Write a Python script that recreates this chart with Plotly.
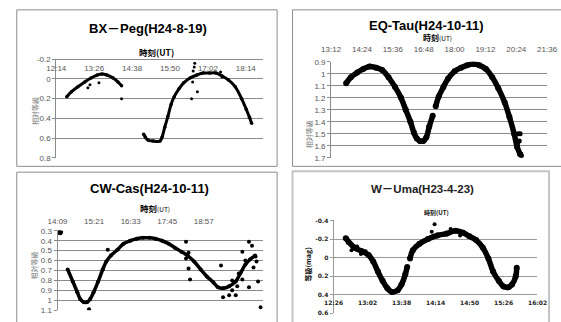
import plotly.graph_objects as go

W, H = 561, 322


def hm(s):
    h, m = s.split(":")
    return int(h) * 60 + int(m)


def fx(x):
    return x / W


def fy(y):
    return 1 - y / H


# ---------------- data ----------------
# BX-Peg (H24-8-19)
bx_t1 = ["12:34", "12:43", "12:55", "13:08", "13:20", "13:32", "13:41", "13:50", "14:02", "14:11", "14:18"]
bx_v1 = [0.18, 0.13, 0.08, 0.03, -0.01, -0.04, -0.05, -0.04, -0.01, 0.03, 0.07]
bx_t2 = ["15:00", "15:03", "15:08", "15:18", "15:31", "15:35", "15:40", "15:46", "15:52", "15:58", "16:07",
         "16:16", "16:28", "16:41", "16:53", "17:05", "17:17", "17:29", "17:41", "17:54", "18:06", "18:15",
         "18:21", "18:25"]
bx_v2 = [0.56, 0.59, 0.62, 0.63, 0.63, 0.59, 0.49, 0.38, 0.26, 0.18, 0.10, 0.04, -0.01, -0.04, -0.06, -0.06,
         -0.06, -0.03, 0.01, 0.08, 0.20, 0.31, 0.39, 0.45]
bx_ot = ["14:18", "13:35", "13:14", "13:18", "16:31", "16:37", "16:36", "16:34", "16:42", "16:33", "17:26", "17:29"]
bx_ov = [0.20, 0.04, 0.09, 0.06, 0.20, -0.16, -0.12, -0.08, 0.13, 0.03, -0.07, -0.02]
bx_ticks = ["12:14", "13:26", "14:38", "15:50", "17:02", "18:14"]
bx_yt = [-0.2, 0, 0.2, 0.4, 0.6, 0.8]

# EQ-Tau (H24-10-11)
eq_t1 = ["13:47", "13:58", "14:13", "14:27", "14:42", "14:57", "15:11", "15:26", "15:41", "15:55", "16:06",
         "16:17", "16:25", "16:32", "16:39", "16:47", "16:54", "17:01", "17:09"]
eq_v1 = [1.08, 1.03, 0.99, 0.96, 0.94, 0.95, 0.97, 1.03, 1.11, 1.20, 1.30, 1.40, 1.49, 1.54, 1.56, 1.56, 1.53,
         1.44, 1.35]
eq_t2 = ["17:16", "17:23", "17:34", "17:45", "18:00", "18:15", "18:29", "18:44", "18:58", "19:13", "19:28",
         "19:42", "19:57", "20:08", "20:19", "20:26", "20:33"]
eq_v2 = [1.27, 1.19, 1.11, 1.04, 0.98, 0.95, 0.93, 0.92, 0.93, 0.96, 1.03, 1.12, 1.24, 1.36, 1.50, 1.61, 1.67]
eq_ot = ["20:29", "20:33", "20:31", "20:36", "20:27"]
eq_ov = [1.50, 1.50, 1.56, 1.68, 1.58]
eq_ticks = ["13:12", "14:24", "15:36", "16:48", "18:00", "19:12", "20:24", "21:36"]
eq_yt = [0.9, 1.0, 1.1, 1.2, 1.3, 1.4, 1.5, 1.6, 1.7]

# CW-Cas (H24-10-11)
cw_t0 = ["14:11", "14:12", "14:13", "14:14", "14:15"]
cw_v0 = [0.30, 0.31, 0.31, 0.32, 0.31]
cw_t1 = ["14:29", "14:39", "14:48", "14:54", "15:01", "15:07", "15:13", "15:20", "15:29", "15:38", "15:45",
         "15:54", "16:07", "16:19", "16:32", "16:45", "16:57", "17:10", "17:22", "17:35", "17:48", "18:00",
         "18:13", "18:25", "18:38", "18:51", "19:03", "19:16", "19:25", "19:35", "19:47", "20:00", "20:09",
         "20:19", "20:28", "20:38"]
cw_v1 = [0.69, 0.81, 0.92, 0.99, 1.02, 1.02, 0.99, 0.92, 0.81, 0.69, 0.61, 0.55, 0.49, 0.43, 0.40, 0.38, 0.37,
         0.37, 0.38, 0.40, 0.43, 0.47, 0.51, 0.55, 0.61, 0.69, 0.76, 0.82, 0.87, 0.88, 0.86, 0.81, 0.73, 0.64,
         0.59, 0.55]
cw_ot = ["15:48", "18:22", "18:22", "18:27", "18:27", "18:30", "19:31", "19:35", "19:47", "19:53", "20:00",
         "20:13", "20:13", "20:26", "20:32", "20:35", "20:26", "20:41", "20:44", "20:49", "20:39", "20:19",
         "20:06", "19:53", "20:03", "15:11"]
cw_ov = [0.49, 0.41, 0.58, 0.52, 0.68, 0.79, 0.65, 0.97, 0.95, 0.90, 0.95, 0.79, 0.51, 0.41, 0.45, 0.67, 0.87,
         0.61, 0.81, 1.07, 0.56, 0.60, 0.73, 0.80, 0.86, 1.09]
cw_ticks = ["14:09", "15:21", "16:33", "17:45", "18:57"]
cw_yt = [0.3, 0.4, 0.5, 0.6, 0.7, 0.8, 0.9, 1.0, 1.1]

# W-Uma (H23-4-23)
wu_t1 = ["12:39", "12:48", "12:56", "13:03", "13:08", "13:13", "13:18", "13:23", "13:28", "13:34", "13:38",
         "13:42", "13:44"]
wu_v1 = [-0.21, -0.11, -0.07, -0.03, 0.04, 0.15, 0.25, 0.33, 0.37, 0.35, 0.29, 0.18, 0.10]
wu_t2 = ["13:47", "13:50", "13:57", "14:06", "14:16", "14:26", "14:35", "14:43", "14:50", "14:57", "15:04",
         "15:10", "15:15", "15:21", "15:26", "15:31", "15:35", "15:39", "15:40"]
wu_v2 = [0.01, -0.08, -0.15, -0.20, -0.24, -0.26, -0.29, -0.27, -0.23, -0.19, -0.11, 0.01, 0.15, 0.25, 0.31,
         0.32, 0.29, 0.20, 0.11]
wu_ot = ["14:13", "12:41", "12:45", "12:51", "12:55", "13:00", "14:10", "14:30", "14:40"]
wu_ov = [-0.36, -0.16, -0.08, -0.12, -0.04, -0.07, -0.28, -0.31, -0.24]
wu_ticks = ["12:26", "13:02", "13:38", "14:14", "14:50", "15:26", "16:02"]
wu_yt = [-0.4, -0.2, 0, 0.2, 0.4, 0.6]


def fmt(v):
    s = ("%.1f" % v)
    if s.endswith(".0"):
        s = s[:-2]
    if s == "-0":
        s = "0"
    return s


fig = go.Figure()


def add_line(t, v, xa, ya, width):
    fig.add_trace(go.Scatter(x=[hm(s) for s in t], y=v, mode="lines+markers", xaxis=xa, yaxis=ya,
                             line=dict(color="black", width=width, shape="spline"),
                             marker=dict(color="black", size=width + 0.5), showlegend=False,
                             hoverinfo="skip"))


def add_pts(t, v, xa, ya, size):
    fig.add_trace(go.Scatter(x=[hm(s) for s in t], y=v, mode="markers", xaxis=xa, yaxis=ya,
                             marker=dict(color="black", size=size), showlegend=False, hoverinfo="skip"))


add_line(bx_t1, bx_v1, "x", "y", 3)
add_line(bx_t2, bx_v2, "x", "y", 3)
add_pts(bx_ot, bx_ov, "x", "y", 3)

add_line(eq_t1, eq_v1, "x2", "y2", 5.5)
add_line(eq_t2, eq_v2, "x2", "y2", 5.5)
add_pts(eq_ot, eq_ov, "x2", "y2", 5)

add_pts(cw_t0, cw_v0, "x3", "y3", 5)
add_line(cw_t1, cw_v1, "x3", "y3", 3.5)
add_pts(cw_ot, cw_ov, "x3", "y3", 4)

add_line(wu_t1, wu_v1, "x4", "y4", 5.5)
add_line(wu_t2, wu_v2, "x4", "y4", 5.5)
add_pts(wu_ot, wu_ov, "x4", "y4", 4)

GRID = "#8a8a8a"
TICKF = dict(family="Liberation Sans", size=8, color="#555")
WUF = dict(family="DejaVu Sans", size=6, color="#222", weight="bold")


def yax(dom, rng, vals, anchor, font=TICKF, grid=GRID):
    return dict(domain=dom, range=rng, anchor=anchor, tickvals=vals, ticktext=[fmt(v) for v in vals],
                showgrid=True, gridcolor=grid, gridwidth=1, showline=True, linecolor=grid, ticks="outside",
                ticklen=3, tickcolor=grid, zeroline=False, tickfont=font, fixedrange=True)


def xax(dom, rng, labels, **kw):
    d = dict(domain=dom, range=rng, tickvals=[hm(s) for s in labels], ticktext=labels, showgrid=False,
             zeroline=False, ticks="", tickfont=TICKF, fixedrange=True)
    d.update(kw)
    return d


CLEAR = "rgba(0,0,0,0)"

fig.update_layout(
    width=W, height=H, margin=dict(l=0, r=0, t=0, b=0),
    paper_bgcolor="white", plot_bgcolor=CLEAR,
    xaxis=xax([fx(48), fx(262)], [hm("12:14"), hm("18:46")], bx_ticks, anchor="free", position=fy(56.7),
              side="bottom", showline=True, linecolor=GRID, ticks="outside", ticklen=1, tickcolor=CLEAR),
    yaxis=yax([fy(158.3), fy(56.7)], [0.801, -0.201], bx_yt, "x"),
    xaxis2=xax([fx(333), fx(557)], [hm("13:12"), hm("21:36")], eq_ticks, anchor="y2", side="top",
               ticks="outside", ticklen=5, tickcolor=CLEAR),
    yaxis2=yax([fy(158.3), fy(59.3)], [1.7005, 0.8995], eq_yt, "x2"),
    xaxis3=xax([fx(49.3), fx(262)], [hm("14:09"), hm("20:53")], cw_ticks, anchor="y3", side="top",
               ticks="outside", ticklen=3, tickcolor=CLEAR),
    yaxis3=yax([fy(315), fy(233.3)], [1.1005, 0.2995], cw_yt, "x3"),
    xaxis4=xax([fx(335.5), fx(547)], [hm("12:26"), hm("16:02")], wu_ticks, anchor="free", position=fy(297.3),
               side="bottom", ticks="outside", ticklen=4, tickcolor=CLEAR, tickfont=WUF),
    yaxis4=yax([fy(318.3), fy(222.7)], [0.601, -0.401], wu_yt, "x4", font=WUF, grid="#9a9a9a"),
)

# panel borders
borders = [
    (7, 6, 277, 167, "#8c8c8c", 1),
    (293, 6, 575, 167, "#8c8c8c", 1),
    (7, 173, 277, 340, "#8c8c8c", 1),
    (293, 172, 559, 340, "#c4c4c4", 2),
]
for x0, y0, x1, y1, c, w in borders:
    fig.add_shape(type="rect", xref="paper", yref="paper", x0=fx(x0), x1=fx(x1), y0=fy(y0), y1=fy(y1),
                  line=dict(color=c, width=w), fillcolor=CLEAR, layer="below")


def ann(text, x, y, size, color="black", family="Noto Sans CJK JP", angle=0):
    fig.add_annotation(text=text, x=fx(x), y=fy(y), xref="paper", yref="paper", showarrow=False,
                       xanchor="center", yanchor="middle", textangle=angle, borderpad=0,
                       font=dict(family=family, size=size, color=color))


TF = "Liberation Sans, Noto Sans CJK JP"
# titles
ann("<b>BX－Peg(H24-8-19)</b>", 143, 25, 13, family=TF)
ann("<b>EQ-Tau(H24-10-11)</b>", 432, 22, 13, family=TF)
ann("<b>CW-Cas(H24-10-11)</b>", 145, 190, 13, family=TF)
ann("<b>W－Uma(H23-4-23)</b>", 428, 190, 11.5, color="#222", family=TF)

# time axis titles
ann("<b>時刻(UT)</b>", 152, 49, 8.5)
ann("<b>時刻</b><span style='font-size:6.5px'>(UT)</span>", 443, 34, 8)
ann("<b>時刻</b><span style='font-size:6.5px'>(UT)</span>", 150, 210, 8.5)
ann("<b>時刻(UT)</b>", 442, 214, 6, color="#111")

# vertical magnitude axis titles
ann("相対等級", 26, 110, 7, color="#777", angle=-90)
ann("相対等級", 310, 134, 7, color="#777", angle=-90)
ann("相対等級", 25, 269, 7, color="#777", angle=-90)
ann("<b>等級(mag)</b>", 308, 268, 7, color="#111", angle=-90)

fig.write_html("out.html", config={"displayModeBar": False},
               post_script="document.body.style.margin='0';document.body.style.overflow='hidden';")
